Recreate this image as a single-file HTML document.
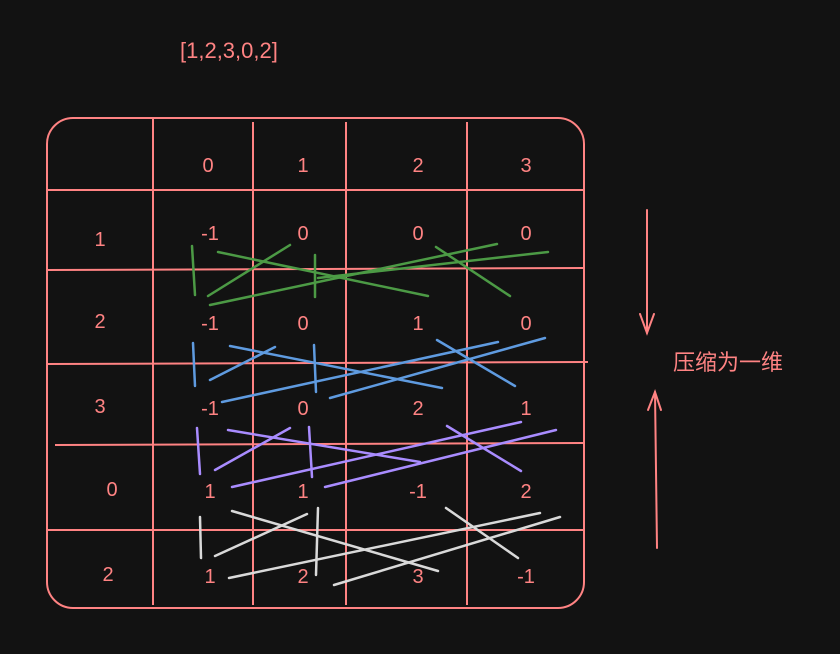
<!DOCTYPE html>
<html><head><meta charset="utf-8"><style>
html,body{margin:0;padding:0;background:#121212;}
svg{display:block}
text{font-family:"Liberation Sans","Noto Sans CJK SC",sans-serif;fill:#ff8383;}
</style></head><body>
<svg id="s" width="840" height="654" viewBox="0 0 840 654">
<text x="180" y="58" font-size="22">[1,2,3,0,2]</text>
<g id="grid" stroke="#ff8383" stroke-width="2" fill="none">
<rect x="47" y="118" width="537" height="490" rx="26"/>
<line x1="153" y1="118" x2="153" y2="605"/>
<line x1="253" y1="122" x2="253" y2="605"/>
<line x1="346" y1="122" x2="346" y2="605"/>
<line x1="467" y1="122" x2="467" y2="605"/>
<line x1="47" y1="190" x2="584" y2="190"/>
<line x1="47" y1="270" x2="584" y2="268"/>
<line x1="47" y1="364" x2="588" y2="362"/>
<line x1="55" y1="445" x2="584" y2="443"/>
<line x1="47" y1="530" x2="584" y2="530"/>
</g>
<g id="txt" font-size="20" text-anchor="middle"></g>
<g id="marks" stroke-width="2.5" stroke-linecap="round"></g>
<g stroke="#ff8383" stroke-width="2" fill="none" stroke-linecap="round">
<line x1="647" y1="210" x2="647" y2="333"/><polyline points="640,314 647,333 654,314"/>
<line x1="657" y1="548" x2="655" y2="392"/><polyline points="648,410 655,392 661,410"/>
</g>
<text x="673" y="370" font-size="22">压缩为一维</text>
</svg>
<script>
const headers=["0","1","2","3"];
const rowLabels=["1","2","3","0","2"];
const cells=[["-1","0","0","0"],["-1","0","1","0"],["-1","0","2","1"],["1","1","-1","2"],["1","2","3","-1"]];
const colX=[208,303,418,526];
const rowY=[248,330,415,498,583];
const ns="http://www.w3.org/2000/svg";
const tg=document.getElementById('txt');
function t(x,y,s,name){const e=document.createElementNS(ns,'text');e.setAttribute('x',x);e.setAttribute('y',y);e.textContent=s;


tg.appendChild(e);}
headers.forEach((h,i)=>t(colX[i],172,h,'col-header'));
rowLabels.forEach((r,i)=>t(i==3?112:i==4?108:100,rowY[i]-2,r,'row-header'));
cells.forEach((row,r)=>row.forEach((v,c)=>t(colX[c]+(c==0?2:0),rowY[r]-(r==0?8:0),v,'cell-value')));
const colors=["#4c9a45","#5f9be0","#a98cff","#d9d9d9"];
const strokes=[
[[192,246,195,295],[315,255,315,297],[208,296,290,245],[218,252,428,296],[210,305,497,244],[318,278,548,252],[436,247,510,296]],
[[193,343,195,386],[314,345,316,392],[230,346,442,388],[210,380,275,347],[222,402,498,342],[330,398,545,338],[437,340,515,386]],
[[197,428,200,474],[309,427,312,477],[228,430,420,462],[215,470,290,428],[232,487,521,422],[325,487,556,430],[447,426,521,471]],
[[200,517,201,558],[318,508,316,575],[232,511,438,571],[215,556,307,514],[229,578,540,513],[334,585,560,517],[446,508,518,558]]];
const mg=document.getElementById('marks');
strokes.forEach((set,i)=>set.forEach(p=>{const l=document.createElementNS(ns,'line');
l.setAttribute('x1',p[0]);l.setAttribute('y1',p[1]);l.setAttribute('x2',p[2]);l.setAttribute('y2',p[3]);l.setAttribute('stroke',colors[i]);


mg.appendChild(l);}));
</script>
</body></html>
